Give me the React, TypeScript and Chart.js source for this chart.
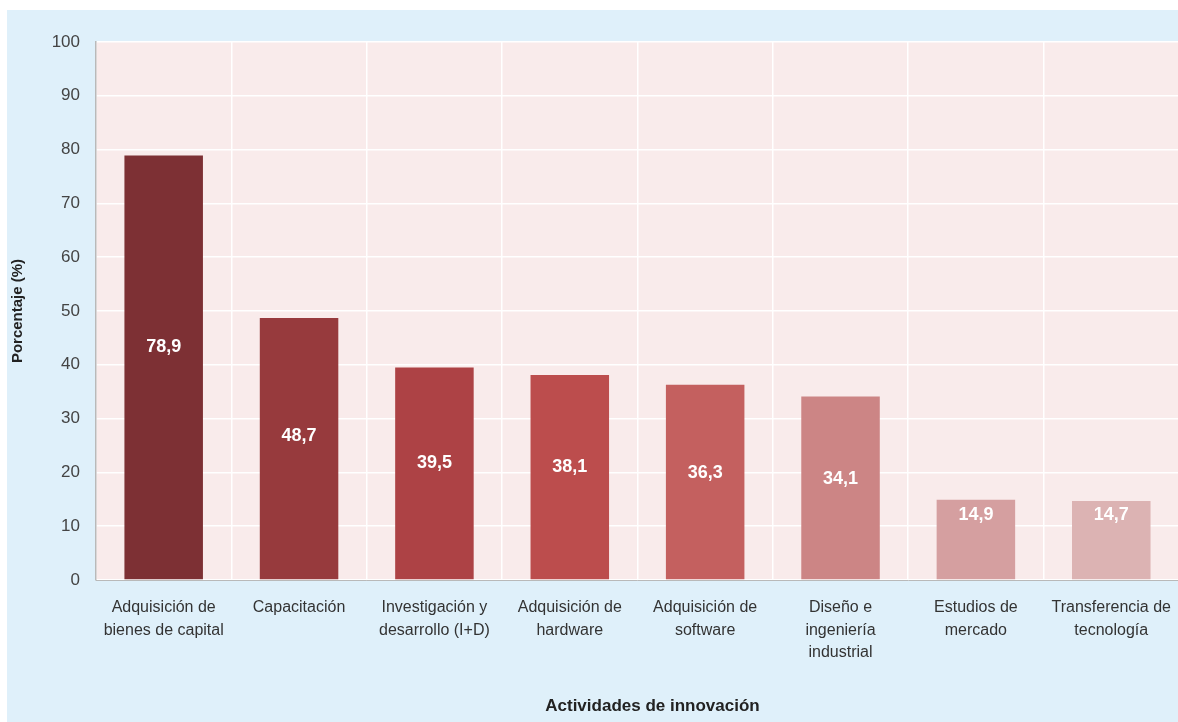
import React, { useEffect, useRef } from "react";
import { Chart, registerables } from "chart.js";

Chart.register(...registerables);

const categories: string[][] = [
  ["Adquisición de", "bienes de capital"],
  ["Capacitación"],
  ["Investigación y", "desarrollo (I+D)"],
  ["Adquisición de", "hardware"],
  ["Adquisición de", "software"],
  ["Diseño e", "ingeniería", "industrial"],
  ["Estudios de", "mercado"],
  ["Transferencia de", "tecnología"],
];
const values: number[] = [78.9, 48.7, 39.5, 38.1, 36.3, 34.1, 14.9, 14.7];
const barColors: string[] = [
  "#7d3034",
  "#973a3d",
  "#ad4245",
  "#bc4d4d",
  "#c4605f",
  "#cc8585",
  "#d59fa0",
  "#dcb3b3",
];
const yTicks: number[] = [0, 10, 20, 30, 40, 50, 60, 70, 80, 90, 100];
const xTitle = "Actividades de innovación";
const yTitle = "Porcentaje (%)";

const FONT = "'Liberation Sans', Arial, sans-serif";

const plotBg = {
  id: "plotBg",
  beforeDraw(chart: any) {
    const { ctx, chartArea } = chart;
    ctx.save();
    ctx.fillStyle = "#f9ebeb";
    ctx.fillRect(chartArea.left, chartArea.top, chartArea.right - chartArea.left, chartArea.bottom - chartArea.top);
    ctx.restore();
  },
};

const valueLabels = {
  id: "valueLabels",
  afterDatasetsDraw(chart: any) {
    const { ctx, chartArea } = chart;
    const meta = chart.getDatasetMeta(0);
    const yScale = chart.scales.y;
    ctx.save();
    ctx.fillStyle = "#ffffff";
    ctx.font = `bold 18px ${FONT}`;
    ctx.textAlign = "center";
    ctx.textBaseline = "middle";
    meta.data.forEach((bar: any, i: number) => {
      const v = values[i];
      const pos = Math.max(v * 0.55, 12);
      const y = yScale.getPixelForValue(pos);
      ctx.fillText(v.toFixed(1).replace(".", ","), bar.x, y);
    });
    // axis titles
    ctx.fillStyle = "#222222";
    ctx.font = `bold 17px ${FONT}`;
    ctx.fillText(xTitle, (chartArea.left + chartArea.right) / 2 + 15, 696);
    ctx.translate(11, (chartArea.top + chartArea.bottom) / 2);
    ctx.rotate(-Math.PI / 2);
    ctx.font = `bold 15px ${FONT}`;
    ctx.fillText(yTitle, 0, 0);
    ctx.restore();
  },
};

export default function App() {
  const ref = useRef<HTMLCanvasElement>(null);

  useEffect(() => {
    document.body.style.margin = "0";
    const chart = new Chart(ref.current!, {
      type: "bar",
      data: {
        labels: categories,
        datasets: [
          {
            data: values,
            backgroundColor: barColors,
            borderWidth: 0,
            categoryPercentage: 1,
            barPercentage: 0.58,
          },
        ],
      },
      options: {
        animation: false,
        responsive: false,
        devicePixelRatio: 1,
        layout: { padding: { top: 32, left: 0, right: 0, bottom: 0 } },
        plugins: {
          legend: { display: false },
          tooltip: { enabled: false },
        },
        scales: {
          x: {
            offset: true,
            grid: {
              color: "#ffffff",
              lineWidth: 1.5,
              offset: true,
              drawTicks: false,
            },
            border: { display: true, color: "#b9b9b9", width: 1 },
            ticks: {
              color: "#333333",
              font: { family: FONT, size: 16, lineHeight: 1.38 },
              padding: 17,
              maxRotation: 0,
              autoSkip: false,
            },
            afterFit(scale: any) {
              scale.height = 142;
            },
          },
          y: {
            min: 0,
            max: 100,
            afterBuildTicks(scale: any) {
              scale.ticks = yTicks.map((v) => ({ value: v }));
            },
            grid: { color: "#ffffff", lineWidth: 1.5, drawTicks: false },
            border: { display: true, color: "#b9b9b9", width: 1.5 },
            ticks: {
              color: "#444444",
              font: { family: FONT, size: 17 },
              padding: 16,
            },
            afterFit(scale: any) {
              scale.width = 89;
            },
          },
        },
      },
      plugins: [plotBg, valueLabels],
    });
    return () => chart.destroy();
  }, []);

  return (
    <div
      style={{
        position: "fixed",
        left: 7,
        top: 10,
        width: 1181,
        height: 712,
        background: "#dff0fa",
      }}
    >
      <canvas ref={ref} width={1181} height={712} style={{ display: "block" }} />
    </div>
  );
}
